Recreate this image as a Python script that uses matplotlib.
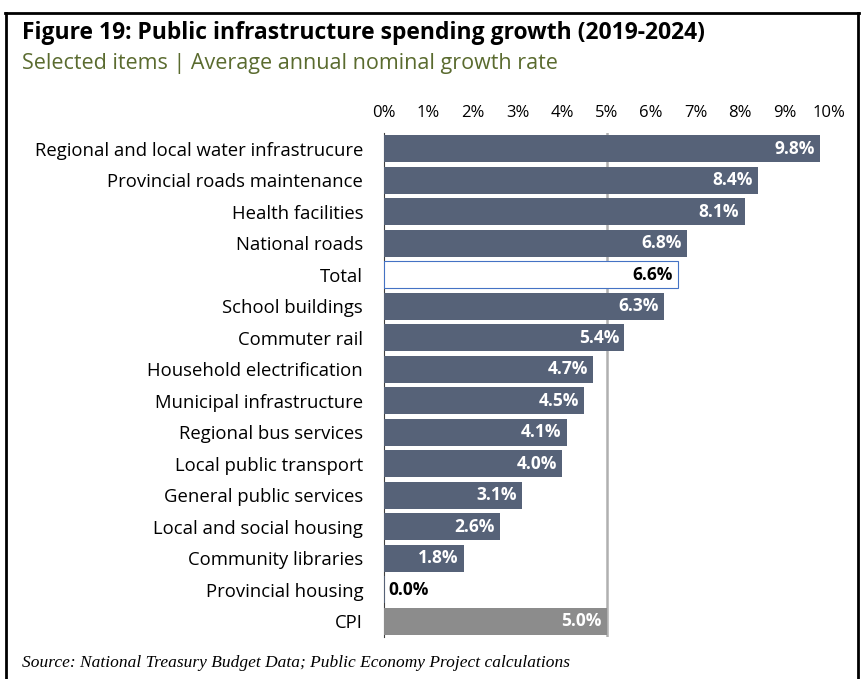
import matplotlib.pyplot as plt
from matplotlib.ticker import FuncFormatter

categories = [
    "Regional and local water infrastrucure",
    "Provincial roads maintenance",
    "Health facilities",
    "National roads",
    "Total",
    "School buildings",
    "Commuter rail",
    "Household electrification",
    "Municipal infrastructure",
    "Regional bus services",
    "Local public transport",
    "General public services",
    "Local and social housing",
    "Community libraries",
    "Provincial housing",
    "CPI",
]
values = [9.8, 8.4, 8.1, 6.8, 6.6, 6.3, 5.4, 4.7, 4.5, 4.1, 4.0, 3.1, 2.6, 1.8, 0.0, 5.0]
ticks = list(range(0, 11))

BAR = "#566278"
GREY = "#8c8c8c"
font = ["Open Sans", "DejaVu Sans"]
plt.rcParams["font.family"] = font

fig = plt.figure(figsize=(8.63, 6.79), dpi=100)
ax = fig.add_axes([0.445, 0.062, 0.5157, 0.742])

LBL = 12.5
H = 0.85
for i, (cat, v) in enumerate(zip(categories, values)):
    if cat == "Total":
        ax.barh(i, v, height=H, color="white", edgecolor="#4472c4", linewidth=0.8, zorder=3)
        ax.text(v - 0.12, i, f"{v:.1f}%", ha="right", va="center", fontsize=LBL,
                fontweight="bold", color="black", zorder=4)
    elif cat == "CPI":
        ax.barh(i, v, height=H, color=GREY, zorder=3)
        ax.text(v - 0.12, i, f"{v:.1f}%", ha="right", va="center", fontsize=LBL,
                fontweight="bold", color="white", zorder=4)
    elif v == 0:
        ax.barh(i, 0.03, height=H, color=BAR, zorder=3)
        ax.text(0.1, i, f"{v:.1f}%", ha="left", va="center", fontsize=LBL,
                fontweight="bold", color="black", zorder=4)
    else:
        ax.barh(i, v, height=H, color=BAR, zorder=3)
        ax.text(v - 0.12, i, f"{v:.1f}%", ha="right", va="center", fontsize=LBL,
                fontweight="bold", color="white", zorder=4)

ax.axvline(5, color="#b0b0b0", linewidth=1.8, zorder=2)

ax.set_xlim(0, 10)
ax.set_ylim(15.5, -0.5)
ax.set_xticks(ticks)
ax.xaxis.set_major_formatter(FuncFormatter(lambda x, p: f"{x:.0f}%"))
ax.xaxis.tick_top()
ax.set_yticks(range(len(categories)))
ax.set_yticklabels(categories)
ax.tick_params(axis="x", length=0, labelsize=12, pad=9)
ax.tick_params(axis="y", length=0, labelsize=13.3, pad=15)
for s in ["top", "right", "bottom"]:
    ax.spines[s].set_visible(False)
ax.spines["left"].set_color("#404040")
ax.spines["left"].set_linewidth(0.8)

fig.text(0.025, 0.951, "Figure 19: Public infrastructure spending growth (2019-2024)",
         fontsize=16.5, fontweight="bold", va="center", ha="left")
fig.text(0.025, 0.906, "Selected items | Average annual nominal growth rate",
         fontsize=15.5, color="#5a6b2f", va="center", ha="left")
fig.text(0.025, 0.024, "Source: National Treasury Budget Data; Public Economy Project calculations",
         fontsize=12.5, fontstyle="italic", family="Liberation Serif", va="center", ha="left")

# frame lines (left, top, right)
fig.add_artist(plt.Line2D([0.007, 0.007], [0.0, 0.981], color="black", linewidth=2, transform=fig.transFigure))
fig.add_artist(plt.Line2D([0.006, 0.995], [0.981, 0.981], color="black", linewidth=2, transform=fig.transFigure))
fig.add_artist(plt.Line2D([0.994, 0.994], [0.0, 0.981], color="black", linewidth=2, transform=fig.transFigure))

fig.savefig("out.png", dpi=100)
